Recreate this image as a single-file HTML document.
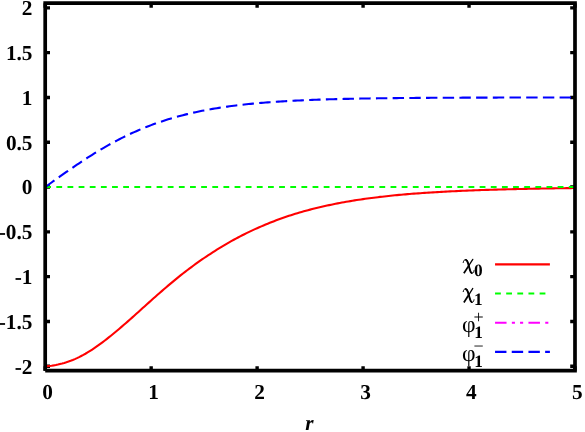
<!DOCTYPE html>
<html><head><meta charset="utf-8"><title>plot</title>
<style>html,body{margin:0;padding:0;background:#fff;}svg{display:block;}text{text-rendering:geometricPrecision;}</style>
</head><body>
<svg width="585" height="432" viewBox="0 0 585 432">
<defs><filter id="g" filterUnits="userSpaceOnUse" x="0" y="0" width="585" height="432"><feOffset dx="0" dy="0"/></filter></defs>
<rect width="585" height="432" fill="#fff"/>
<g stroke="#000" stroke-width="3.40" fill="none">
<path d="M45.20,7.85 h4.80 M575.00,7.85 h-4.80"/>
<path d="M45.20,52.65 h4.80 M575.00,52.65 h-4.80"/>
<path d="M45.20,97.45 h4.80 M575.00,97.45 h-4.80"/>
<path d="M45.20,142.25 h4.80 M575.00,142.25 h-4.80"/>
<path d="M45.20,187.05 h4.80 M575.00,187.05 h-4.80"/>
<path d="M45.20,231.85 h4.80 M575.00,231.85 h-4.80"/>
<path d="M45.20,276.65 h4.80 M575.00,276.65 h-4.80"/>
<path d="M45.20,321.45 h4.80 M575.00,321.45 h-4.80"/>
<path d="M45.20,366.25 h4.80 M575.00,366.25 h-4.80"/>
<path d="M45.20,370.70 V366.25 M45.20,3.20 V7.85"/>
<path d="M151.16,370.70 V366.25 M151.16,3.20 V7.85"/>
<path d="M257.12,370.70 V366.25 M257.12,3.20 V7.85"/>
<path d="M363.08,370.70 V366.25 M363.08,3.20 V7.85"/>
<path d="M469.04,370.70 V366.25 M469.04,3.20 V7.85"/>
<path d="M575.00,370.70 V366.25 M575.00,3.20 V7.85"/>
</g>
<g fill="none" stroke-width="2.10">
<path d="M45.20,366.25 L47.32,366.14 L49.44,365.96 L51.56,365.71 L53.68,365.38 L55.80,364.99 L57.92,364.52 L60.03,363.99 L62.15,363.49 L64.27,362.93 L66.39,362.30 L68.51,361.60 L70.63,360.83 L72.75,360.00 L74.87,359.11 L76.99,358.15 L79.11,357.13 L81.23,356.05 L83.35,354.92 L85.46,353.73 L87.58,352.47 L89.70,351.16 L91.82,349.80 L93.94,348.40 L96.06,346.95 L98.18,345.46 L100.30,343.92 L102.42,342.35 L104.54,340.75 L106.66,339.11 L108.78,337.44 L110.90,335.74 L113.01,334.01 L115.13,332.26 L117.25,330.48 L119.37,328.68 L121.49,326.87 L123.61,325.04 L125.73,323.20 L127.85,321.35 L129.97,319.48 L132.09,317.61 L134.21,315.73 L136.33,313.83 L138.44,311.91 L140.56,309.99 L142.68,308.08 L144.80,306.16 L146.92,304.25 L149.04,302.35 L151.16,300.45 L153.28,298.56 L155.40,296.67 L157.52,294.80 L159.64,292.94 L161.76,291.10 L163.88,289.26 L165.99,287.45 L168.11,285.65 L170.23,283.86 L172.35,282.09 L174.47,280.34 L176.59,278.60 L178.71,276.89 L180.83,275.19 L182.95,273.51 L185.07,271.85 L187.19,270.23 L189.31,268.63 L191.42,267.04 L193.54,265.48 L195.66,263.94 L197.78,262.43 L199.90,260.93 L202.02,259.45 L204.14,258.00 L206.26,256.57 L208.38,255.16 L210.50,253.77 L212.62,252.38 L214.74,251.02 L216.86,249.68 L218.97,248.36 L221.09,247.07 L223.21,245.79 L225.33,244.54 L227.45,243.30 L229.57,242.09 L231.69,240.90 L233.81,239.73 L235.93,238.58 L238.05,237.46 L240.17,236.35 L242.29,235.27 L244.40,234.20 L246.52,233.16 L248.64,232.13 L250.76,231.12 L252.88,230.14 L255.00,229.17 L257.12,228.22 L259.24,227.28 L261.36,226.36 L263.48,225.45 L265.60,224.56 L267.72,223.68 L269.84,222.82 L271.95,221.98 L274.07,221.16 L276.19,220.35 L278.31,219.56 L280.43,218.78 L282.55,218.02 L284.67,217.28 L286.79,216.55 L288.91,215.83 L291.03,215.14 L293.15,214.47 L295.27,213.82 L297.38,213.18 L299.50,212.55 L301.62,211.94 L303.74,211.34 L305.86,210.75 L307.98,210.18 L310.10,209.62 L312.22,209.07 L314.34,208.53 L316.46,208.01 L318.58,207.50 L320.70,207.00 L322.82,206.51 L324.93,206.03 L327.05,205.56 L329.17,205.11 L331.29,204.66 L333.41,204.23 L335.53,203.80 L337.65,203.39 L339.77,202.98 L341.89,202.59 L344.01,202.20 L346.13,201.82 L348.25,201.46 L350.36,201.10 L352.48,200.75 L354.60,200.41 L356.72,200.07 L358.84,199.75 L360.96,199.43 L363.08,199.12 L365.20,198.82 L367.32,198.53 L369.44,198.24 L371.56,197.96 L373.68,197.69 L375.80,197.42 L377.91,197.17 L380.03,196.91 L382.15,196.67 L384.27,196.43 L386.39,196.19 L388.51,195.97 L390.63,195.75 L392.75,195.53 L394.87,195.32 L396.99,195.11 L399.11,194.91 L401.23,194.72 L403.34,194.53 L405.46,194.34 L407.58,194.16 L409.70,193.99 L411.82,193.82 L413.94,193.65 L416.06,193.49 L418.18,193.33 L420.30,193.18 L422.42,193.03 L424.54,192.88 L426.66,192.74 L428.78,192.60 L430.89,192.46 L433.01,192.33 L435.13,192.20 L437.25,192.08 L439.37,191.96 L441.49,191.84 L443.61,191.72 L445.73,191.61 L447.85,191.50 L449.97,191.39 L452.09,191.28 L454.21,191.18 L456.32,191.08 L458.44,190.98 L460.56,190.89 L462.68,190.80 L464.80,190.71 L466.92,190.62 L469.04,190.53 L471.16,190.45 L473.28,190.37 L475.40,190.29 L477.52,190.21 L479.64,190.13 L481.76,190.06 L483.87,189.98 L485.99,189.91 L488.11,189.84 L490.23,189.78 L492.35,189.71 L494.47,189.65 L496.59,189.58 L498.71,189.52 L500.83,189.46 L502.95,189.40 L505.07,189.34 L507.19,189.29 L509.30,189.23 L511.42,189.18 L513.54,189.13 L515.66,189.08 L517.78,189.03 L519.90,188.98 L522.02,188.93 L524.14,188.88 L526.26,188.84 L528.38,188.79 L530.50,188.75 L532.62,188.71 L534.74,188.67 L536.85,188.63 L538.97,188.59 L541.09,188.55 L543.21,188.51 L545.33,188.47 L547.45,188.44 L549.57,188.40 L551.69,188.37 L553.81,188.33 L555.93,188.30 L558.05,188.27 L560.17,188.24 L562.28,188.21 L564.40,188.18 L566.52,188.15 L568.64,188.12 L570.76,188.09 L572.88,188.07 L575.00,188.04" stroke="#ff0000"/>
<path d="M45.20,187.05 L575.00,187.05" stroke="#00ff00" stroke-dasharray="5.8 5.34"/>
<path d="M45.20,187.05 L47.32,185.53 L49.44,184.00 L51.56,182.48 L53.68,180.97 L55.80,179.45 L57.92,177.94 L60.03,176.44 L62.15,174.94 L64.27,173.45 L66.39,171.96 L68.51,170.49 L70.63,169.02 L72.75,167.56 L74.87,166.12 L76.99,164.68 L79.11,163.26 L81.23,161.85 L83.35,160.46 L85.46,159.08 L87.58,157.71 L89.70,156.36 L91.82,155.02 L93.94,153.70 L96.06,152.40 L98.18,151.11 L100.30,149.84 L102.42,148.59 L104.54,147.35 L106.66,146.14 L108.78,144.94 L110.90,143.77 L113.01,142.61 L115.13,141.47 L117.25,140.35 L119.37,139.25 L121.49,138.17 L123.61,137.11 L125.73,136.07 L127.85,135.05 L129.97,134.05 L132.09,133.07 L134.21,132.11 L136.33,131.17 L138.44,130.25 L140.56,129.35 L142.68,128.46 L144.80,127.60 L146.92,126.76 L149.04,125.94 L151.16,125.13 L153.28,124.34 L155.40,123.58 L157.52,122.83 L159.64,122.09 L161.76,121.38 L163.88,120.68 L165.99,120.01 L168.11,119.34 L170.23,118.70 L172.35,118.07 L174.47,117.46 L176.59,116.86 L178.71,116.28 L180.83,115.72 L182.95,115.17 L185.07,114.63 L187.19,114.11 L189.31,113.60 L191.42,113.11 L193.54,112.63 L195.66,112.16 L197.78,111.71 L199.90,111.27 L202.02,110.84 L204.14,110.43 L206.26,110.03 L208.38,109.63 L210.50,109.25 L212.62,108.88 L214.74,108.53 L216.86,108.18 L218.97,107.84 L221.09,107.51 L223.21,107.19 L225.33,106.88 L227.45,106.59 L229.57,106.30 L231.69,106.01 L233.81,105.74 L235.93,105.48 L238.05,105.22 L240.17,104.97 L242.29,104.73 L244.40,104.50 L246.52,104.27 L248.64,104.05 L250.76,103.84 L252.88,103.63 L255.00,103.43 L257.12,103.24 L259.24,103.05 L261.36,102.87 L263.48,102.69 L265.60,102.52 L267.72,102.36 L269.84,102.20 L271.95,102.04 L274.07,101.89 L276.19,101.75 L278.31,101.61 L280.43,101.47 L282.55,101.34 L284.67,101.21 L286.79,101.09 L288.91,100.97 L291.03,100.86 L293.15,100.74 L295.27,100.64 L297.38,100.53 L299.50,100.43 L301.62,100.33 L303.74,100.24 L305.86,100.14 L307.98,100.06 L310.10,99.97 L312.22,99.89 L314.34,99.81 L316.46,99.73 L318.58,99.65 L320.70,99.58 L322.82,99.51 L324.93,99.44 L327.05,99.38 L329.17,99.31 L331.29,99.25 L333.41,99.19 L335.53,99.13 L337.65,99.08 L339.77,99.02 L341.89,98.97 L344.01,98.92 L346.13,98.87 L348.25,98.83 L350.36,98.78 L352.48,98.74 L354.60,98.69 L356.72,98.65 L358.84,98.61 L360.96,98.57 L363.08,98.54 L365.20,98.50 L367.32,98.46 L369.44,98.43 L371.56,98.40 L373.68,98.37 L375.80,98.34 L377.91,98.31 L380.03,98.28 L382.15,98.25 L384.27,98.22 L386.39,98.20 L388.51,98.17 L390.63,98.15 L392.75,98.13 L394.87,98.10 L396.99,98.08 L399.11,98.06 L401.23,98.04 L403.34,98.02 L405.46,98.00 L407.58,97.98 L409.70,97.97 L411.82,97.95 L413.94,97.93 L416.06,97.92 L418.18,97.90 L420.30,97.89 L422.42,97.87 L424.54,97.86 L426.66,97.84 L428.78,97.83 L430.89,97.82 L433.01,97.81 L435.13,97.79 L437.25,97.78 L439.37,97.77 L441.49,97.76 L443.61,97.75 L445.73,97.74 L447.85,97.73 L449.97,97.72 L452.09,97.71 L454.21,97.70 L456.32,97.69 L458.44,97.69 L460.56,97.68 L462.68,97.67 L464.80,97.66 L466.92,97.66 L469.04,97.65 L471.16,97.64 L473.28,97.64 L475.40,97.63 L477.52,97.62 L479.64,97.62 L481.76,97.61 L483.87,97.61 L485.99,97.60 L488.11,97.60 L490.23,97.59 L492.35,97.59 L494.47,97.58 L496.59,97.58 L498.71,97.57 L500.83,97.57 L502.95,97.57 L505.07,97.56 L507.19,97.56 L509.30,97.55 L511.42,97.55 L513.54,97.55 L515.66,97.54 L517.78,97.54 L519.90,97.54 L522.02,97.54 L524.14,97.53 L526.26,97.53 L528.38,97.53 L530.50,97.52 L532.62,97.52 L534.74,97.52 L536.85,97.52 L538.97,97.51 L541.09,97.51 L543.21,97.51 L545.33,97.51 L547.45,97.51 L549.57,97.50 L551.69,97.50 L553.81,97.50 L555.93,97.50 L558.05,97.50 L560.17,97.50 L562.28,97.49 L564.40,97.49 L566.52,97.49 L568.64,97.49 L570.76,97.49 L572.88,97.49 L575.00,97.49" stroke="#0000ff" stroke-dasharray="11.4 5.296"/>
</g>
<path d="M45.20,370.70 V3.20 H575.00 V370.70 H45.20" fill="none" stroke="#000" stroke-width="3.70" stroke-linejoin="miter" stroke-linecap="butt"/>
<g font-family="'Liberation Serif', serif" font-weight="bold" font-size="21.3px" fill="#000" filter="url(#g)">
<text x="32.5" y="15.10" text-anchor="end">2</text>
<text x="32.5" y="59.90" text-anchor="end">1.5</text>
<text x="32.5" y="104.70" text-anchor="end">1</text>
<text x="32.5" y="149.50" text-anchor="end">0.5</text>
<text x="32.5" y="194.30" text-anchor="end">0</text>
<text x="32.5" y="239.10" text-anchor="end">-0.5</text>
<text x="32.5" y="283.90" text-anchor="end">-1</text>
<text x="32.5" y="328.70" text-anchor="end">-1.5</text>
<text x="32.5" y="373.50" text-anchor="end">-2</text>
<text x="47.60" y="398.7" text-anchor="middle">0</text>
<text x="153.56" y="398.7" text-anchor="middle">1</text>
<text x="259.52" y="398.7" text-anchor="middle">2</text>
<text x="365.48" y="398.7" text-anchor="middle">3</text>
<text x="471.44" y="398.7" text-anchor="middle">4</text>
<text x="577.40" y="398.7" text-anchor="middle">5</text>
<text x="309.5" y="429.5" text-anchor="middle" font-style="italic">r</text>
</g>
<g fill="none" stroke-width="2.10">
<path d="M495.05,264.40 H549.90" stroke="#ff0000"/>
<path d="M495.05,293.55 H549.90" stroke="#00ff00" stroke-dasharray="5.8 5.34"/>
<path d="M495.05,322.70 H549.90" stroke="#ff00ff" stroke-dasharray="11.5 5.3 3.1 5.1 3.1 5.3"/>
<path d="M495.05,351.90 H549.90" stroke="#0000ff" stroke-dasharray="11.4 5.296"/>
</g>
<g transform="translate(0,0.00)" fill="none" stroke="#000" stroke-linecap="round" stroke-linejoin="round"><path d="M463.2,262.5 C463.6,260.4 464.6,259.5 465.6,259.5 C467.0,259.5 467.5,260.9 468.0,262.6 L470.2,270.6 C470.7,272.4 471.3,273.2 472.3,273.2 C473.2,273.2 473.7,272.2 474.0,270.6" stroke-width="1.0"/><path d="M465.9,259.9 C466.9,260.3 467.4,261.2 467.9,262.8 L470.1,270.4 C470.5,271.8 470.9,272.5 471.6,272.9" stroke-width="1.9"/><path d="M472.8,259.3 L468.6,265.9" stroke-width="1.25"/><path d="M468.8,265.6 L463.9,273.3" stroke-width="1.75" stroke-linecap="butt"/></g>
<g transform="translate(0,29.15)" fill="none" stroke="#000" stroke-linecap="round" stroke-linejoin="round"><path d="M463.2,262.5 C463.6,260.4 464.6,259.5 465.6,259.5 C467.0,259.5 467.5,260.9 468.0,262.6 L470.2,270.6 C470.7,272.4 471.3,273.2 472.3,273.2 C473.2,273.2 473.7,272.2 474.0,270.6" stroke-width="1.0"/><path d="M465.9,259.9 C466.9,260.3 467.4,261.2 467.9,262.8 L470.1,270.4 C470.5,271.8 470.9,272.5 471.6,272.9" stroke-width="1.9"/><path d="M472.8,259.3 L468.6,265.9" stroke-width="1.25"/><path d="M468.8,265.6 L463.9,273.3" stroke-width="1.75" stroke-linecap="butt"/></g>
<g font-family="'Liberation Serif', serif" fill="#000" filter="url(#g)">
<text x="474.1" y="276.4" font-size="17.3px" font-weight="bold">0</text>
<text x="474.1" y="304.9" font-size="17.3px" font-weight="bold">1</text>
<text x="462.0" y="332.10" font-size="23.5px">φ</text>
<text x="474.2" y="337.50" font-size="17.3px" font-weight="bold">1</text>
<text x="473.4" y="322.60" font-size="18px">+</text>
<text x="462.0" y="361.25" font-size="23.5px">φ</text>
<text x="474.2" y="366.65" font-size="17.3px" font-weight="bold">1</text>
<text x="473.4" y="351.75" font-size="18px">−</text>
</g>
</svg>
</body></html>
